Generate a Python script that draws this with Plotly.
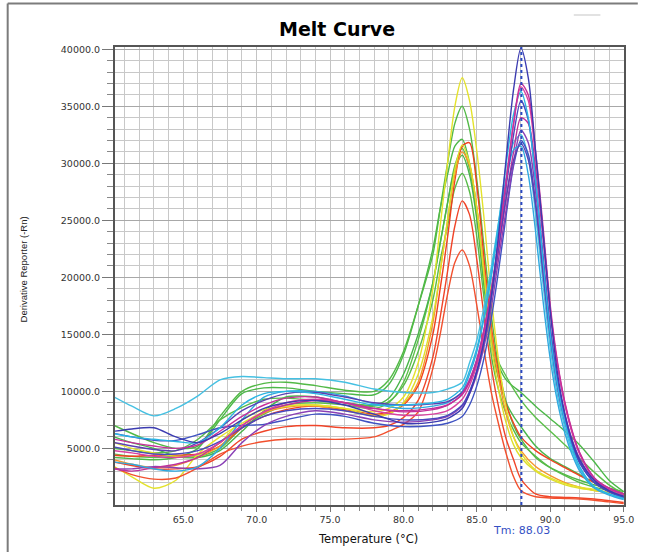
import plotly.graph_objects as go

# ---------------- data ----------------
temps_a = [60.3, 61.5, 63, 64.5, 66, 67.5, 69, 70.5, 72, 74, 76, 78, 79, 80, 81, 82, 82.5, 83, 83.5, 84,
           84.5, 85, 85.5, 86, 86.5, 87, 87.5, 88, 89, 90, 91, 92, 93, 94, 95]
temps_b = [60.3, 61.5, 63, 64.5, 66, 67.5, 69, 70.5, 72, 74, 76, 78, 80, 82, 83, 84,
           84.5, 85, 85.5, 86, 86.5, 87, 87.5, 88, 88.5, 89, 89.5, 90, 90.5, 91, 91.5, 92, 93, 94, 95]

a_yellow1 = [3400, 2500, 1500, 2200, 4500, 6000, 7200, 8200, 8700, 8800, 8500, 8200, 8500, 9500, 12500, 19000, 24500, 30000, 35000, 37500, 35500, 31000, 25000, 18000, 12500, 8500, 6000, 4600, 3100, 2400, 1900, 1600, 1400, 1150, 900]
a_green1 = [7000, 6300, 5500, 5000, 5200, 7800, 10000, 10700, 10800, 10500, 10100, 10000, 11000, 13500, 17500, 22000, 26000, 30000, 33500, 35000, 33000, 28500, 22500, 16500, 12000, 9000, 7000, 5800, 4200, 3300, 2700, 2200, 1800, 1500, 1200]
a_green2 = [4200, 4100, 4000, 4200, 5000, 7500, 9800, 10300, 10300, 10000, 9800, 9700, 10600, 13200, 17500, 22500, 26000, 29000, 31500, 32100, 30000, 26000, 20500, 14500, 12200, 11000, 10400, 9900, 8700, 7600, 6500, 5300, 3800, 2200, 1200]
a_red1 = [4400, 4300, 4400, 4400, 4500, 5200, 6800, 7800, 8400, 8700, 8400, 8000, 8200, 8800, 10500, 15000, 19000, 23500, 28500, 31500, 31800, 28000, 21500, 15500, 11500, 8800, 7200, 6000, 4800, 4000, 3300, 2600, 2000, 1400, 900]
a_yellow2 = [5500, 5000, 4600, 4300, 4400, 5500, 7500, 8400, 8700, 8800, 8500, 7800, 8000, 9000, 11500, 16500, 20500, 25000, 29500, 31600, 30000, 26000, 20000, 14000, 10000, 7200, 5300, 4200, 3000, 2300, 1800, 1500, 1300, 1100, 800]
a_green3 = [4500, 4300, 4200, 4300, 4300, 5000, 6800, 8000, 8800, 9000, 8800, 8500, 9000, 10800, 14500, 19500, 23000, 26500, 29800, 31300, 29500, 25500, 19500, 14500, 12500, 11300, 10200, 9200, 7700, 6500, 5300, 4100, 2900, 1800, 1000]
a_green4 = [6000, 5500, 5000, 4300, 4200, 4800, 6500, 8300, 9500, 9500, 9000, 8800, 9400, 11500, 15000, 19500, 23000, 26500, 29500, 30700, 29000, 25000, 19000, 14000, 11000, 9000, 7800, 6900, 5200, 4100, 3400, 2700, 2000, 1500, 1000]
a_green5 = [5000, 4800, 4600, 4800, 5800, 7500, 8600, 9300, 9400, 9200, 9000, 8700, 9100, 10500, 13500, 18000, 21500, 24500, 27800, 29100, 27500, 23500, 18000, 13000, 10000, 8000, 6600, 5500, 4300, 3300, 2600, 2000, 1600, 1300, 1000]
a_red2 = [3800, 3500, 3200, 3200, 3400, 4300, 5800, 6500, 6900, 7000, 6800, 6800, 7000, 7700, 9200, 13000, 16500, 20500, 24500, 26700, 25500, 21500, 16500, 12000, 8500, 5800, 4000, 2300, 1000, 750, 700, 650, 550, 400, 250]
a_red3 = [3300, 2700, 2300, 2400, 3300, 4500, 5200, 5600, 5800, 5800, 5800, 6000, 6500, 7100, 8200, 12000, 15000, 18500, 21300, 22400, 21000, 17500, 13500, 9800, 7000, 4500, 2500, 1300, 750, 650, 600, 550, 450, 300, 150]
a_orange1 = [4000, 3600, 3300, 3500, 4200, 5200, 7000, 8100, 8600, 8700, 8300, 7900, 8100, 8900, 10800, 16000, 20500, 25000, 29000, 31000, 29800, 26000, 20500, 15000, 11000, 8000, 6000, 4800, 3400, 2600, 2000, 1600, 1300, 1100, 800]

b_indigo1 = [6500, 6700, 6800, 6000, 5500, 6300, 7500, 8500, 9000, 9200, 8800, 8000, 7200, 7300, 7600, 8500, 9800, 11800, 14500, 18500, 24000, 30500, 36500, 40100, 37500, 31000, 24000, 17000, 11500, 8000, 5600, 4000, 2200, 1300, 800]
b_magenta1 = [5800, 5500, 5200, 5000, 5300, 6500, 7800, 8800, 9400, 9500, 9000, 8500, 8200, 8400, 8800, 9800, 11000, 12800, 15500, 19000, 23500, 28500, 33500, 37000, 36000, 31000, 24500, 17500, 12500, 9000, 6500, 4600, 2400, 1500, 1000]
b_magenta2 = [4800, 4600, 4300, 4200, 4500, 5500, 7000, 8200, 9000, 9300, 9000, 8300, 7900, 8000, 8300, 9300, 10500, 12300, 15000, 18800, 23500, 28500, 33500, 36700, 35500, 30500, 24000, 17200, 12200, 8800, 6300, 4500, 2300, 1400, 900]
b_cyan1 = [6300, 6000, 5800, 5600, 5500, 6800, 8800, 9800, 10000, 9800, 9300, 8800, 8800, 9000, 9300, 10300, 11800, 13800, 16800, 20500, 25000, 30000, 34300, 36300, 34000, 28500, 21500, 15000, 10500, 7300, 5000, 3400, 1600, 1000, 600]
b_indigo2 = [5100, 4800, 4500, 4500, 4800, 5600, 6800, 7800, 8300, 8500, 8300, 7800, 7500, 7600, 7900, 8800, 10000, 11800, 14500, 18300, 23000, 28000, 32500, 35500, 33800, 28500, 22000, 15500, 10800, 7600, 5400, 3800, 2000, 1200, 700]
b_magenta3 = [3200, 3000, 3300, 3600, 4200, 5500, 7000, 8200, 8800, 9200, 9000, 8500, 8300, 8500, 8800, 9700, 10800, 12500, 15000, 18500, 22500, 27000, 31000, 34000, 33500, 29500, 23500, 17000, 12300, 8900, 6400, 4600, 2400, 1500, 1000]
b_violet1 = [3200, 3200, 3400, 3300, 3200, 3500, 5500, 7000, 7800, 8300, 8000, 7500, 7300, 7500, 7800, 8700, 9800, 11500, 14000, 17500, 21800, 26000, 30000, 32900, 31800, 27500, 21500, 15500, 11000, 7900, 5700, 4100, 2200, 1400, 900]
b_cyan2 = [9500, 8700, 7850, 8500, 9600, 11000, 11300, 11200, 11100, 11100, 10800, 10200, 9900, 9900, 10200, 10800, 12500, 14500, 17500, 21000, 25000, 28800, 31800, 32500, 30500, 25500, 19500, 13800, 9600, 6800, 4700, 3200, 1600, 1000, 600]
b_indigo3 = [6300, 6000, 5700, 5700, 6200, 6800, 7000, 7100, 7500, 8000, 7800, 7200, 6900, 7000, 7200, 7800, 8800, 10500, 13000, 16500, 20800, 25500, 29800, 32000, 30800, 26500, 20500, 14800, 10300, 7300, 5200, 3700, 2000, 1200, 700]
b_indigo4 = [5500, 5200, 4900, 4800, 5500, 6800, 8300, 9200, 9800, 9900, 9500, 9000, 8800, 8900, 9100, 9900, 11000, 12800, 15500, 19000, 23000, 27000, 30300, 31700, 30300, 26300, 20500, 14800, 10400, 7400, 5300, 3800, 2000, 1200, 700]
b_cyan3 = [3800, 3600, 3200, 3000, 3400, 5000, 7500, 9500, 10000, 10000, 9600, 8900, 8500, 8700, 9000, 10000, 11500, 13500, 16500, 20200, 24500, 28500, 31200, 31500, 29000, 24000, 18000, 12800, 9000, 6300, 4400, 3000, 1500, 900, 500]

y_tick_values = [5000, 10000, 15000, 20000, 25000, 30000, 35000, 40000]
x_tick_values = [65, 70, 75, 80, 85, 90, 95]
tm_value = 88.03

# ---------------- styles ----------------
group_a = [
    (a_green2, "#4cb848"), (a_green1, "#52b946"), (a_green3, "#5cbf4a"), (a_green4, "#49b54a"),
    (a_green5, "#58bb48"), (a_red1, "#f0401e"), (a_orange1, "#f5962a"), (a_yellow2, "#dede2a"),
    (a_yellow1, "#e4e22c"), (a_red2, "#f04428"), (a_red3, "#f2502e"),
]
group_b = [
    (b_cyan2, "#45c0e2"), (b_indigo3, "#3f52c2"), (b_violet1, "#8a40b6"), (b_magenta3, "#bc329c"),
    (b_cyan3, "#2fa9e0"), (b_indigo4, "#5a40b2"), (b_indigo2, "#4848be"), (b_cyan1, "#2ab5e3"),
    (b_magenta2, "#d8409f"), (b_magenta1, "#c6309a"), (b_indigo1, "#3b3bb0"),
]

fig = go.Figure()
for vals, col in group_a:
    fig.add_trace(go.Scatter(x=temps_a, y=vals, mode="lines",
                             line=dict(color=col, width=1.4, shape="spline", smoothing=0.8),
                             showlegend=False, hoverinfo="skip"))
for vals, col in group_b:
    fig.add_trace(go.Scatter(x=temps_b, y=vals, mode="lines",
                             line=dict(color=col, width=1.4, shape="spline", smoothing=0.8),
                             showlegend=False, hoverinfo="skip"))

tick_font = dict(family="DejaVu Sans", size=9.5, color="#333333")

fig.update_xaxes(
    range=[60.35, 95.02], tickmode="array", tickvals=x_tick_values,
    ticktext=[f"{v:.1f}" for v in x_tick_values],
    ticks="outside", ticklen=5, tickcolor="#777777", tickwidth=1,
    showgrid=True, gridcolor="#c4c4c4", gridwidth=1.3,
    minor=dict(dtick=1, tick0=0, showgrid=True, gridcolor="#c8c8c8", gridwidth=1.3,
               ticks="outside", ticklen=4, tickcolor="#888888"),
    showline=True, linecolor="#555555", linewidth=2, mirror=True,
    zeroline=False, tickfont=tick_font,
)
fig.update_yaxes(
    range=[30, 40200], tickmode="array", tickvals=y_tick_values,
    ticktext=[f"{v:.1f}" for v in y_tick_values],
    ticks="outside", ticklen=11, tickcolor="#777777", tickwidth=1,
    showgrid=True, gridcolor="#a8a8a8", gridwidth=1.3,
    minor=dict(dtick=1000, tick0=0, showgrid=True, gridcolor="#c8c8c8", gridwidth=1.3,
               ticks="outside", ticklen=6, tickcolor="#888888"),
    showline=True, linecolor="#555555", linewidth=2, mirror=True,
    zeroline=False, tickfont=tick_font,
)

L, R, T, B = 115, 14, 47, 47
W, H = 646, 552
pw, ph = W - L - R, H - T - B


def px(xp):
    return (xp - L) / pw


def py(yp):
    return (H - B - yp) / ph


shapes = [
    dict(type="line", xref="x", yref="paper", x0=tm_value, x1=tm_value, y0=0, y1=1,
         line=dict(color="#2a48c0", width=2, dash="dot")),
    dict(type="line", xref="paper", yref="paper", x0=px(6), x1=px(6), y0=py(3.5), y1=py(552),
         line=dict(color="#7c7c7c", width=2)),
    dict(type="line", xref="paper", yref="paper", x0=px(6), x1=px(646), y0=py(3.5), y1=py(3.5),
         line=dict(color="#7c7c7c", width=2)),
    dict(type="line", xref="paper", yref="paper", x0=px(581), x1=px(608), y0=py(15), y1=py(15),
         line=dict(color="#e2e2e2", width=2)),
]

annotations = [
    dict(text="<b>Melt Curve</b>", xref="paper", yref="paper", x=px(340), y=py(29),
         showarrow=False, xanchor="center", yanchor="middle",
         font=dict(family="DejaVu Sans", size=19, color="#000000")),
    dict(text="Temperature (°C)", xref="paper", yref="paper", x=px(372), y=py(539),
         showarrow=False, xanchor="center", yanchor="middle",
         font=dict(family="DejaVu Sans", size=11.5, color="#111111")),
    dict(text="Derivative Reporter (-Rn)", xref="paper", yref="paper", x=px(22), y=py(269),
         showarrow=False, xanchor="center", yanchor="middle", textangle=-90,
         font=dict(family="Liberation Sans", size=9.5, color="#222222")),
    dict(text=f"Tm: {tm_value:.2f}", xref="x", yref="paper", x=tm_value, y=py(530),
         showarrow=False, xanchor="center", yanchor="middle",
         font=dict(family="DejaVu Sans", size=11, color="#3450c4")),
]

fig.update_layout(
    width=W, height=H, margin=dict(l=L, r=R, t=T, b=B),
    paper_bgcolor="#ffffff", plot_bgcolor="#ffffff",
    shapes=shapes, annotations=annotations, showlegend=False,
)

fig.write_html("out.html", config={"displayModeBar": False},
               post_script="document.body.style.margin='0px';document.body.style.overflow='hidden';")
